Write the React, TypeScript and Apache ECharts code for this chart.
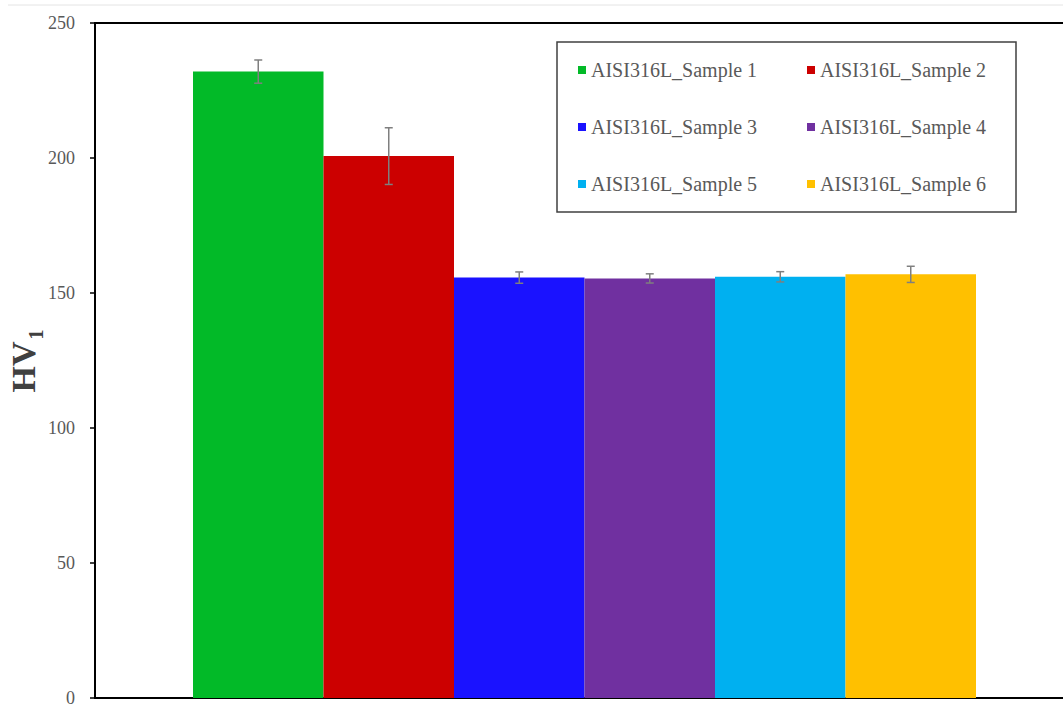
import React, { useEffect, useRef } from "react";
import * as echarts from "echarts";

const seriesNames = [
  "AISI316L_Sample 1",
  "AISI316L_Sample 2",
  "AISI316L_Sample 3",
  "AISI316L_Sample 4",
  "AISI316L_Sample 5",
  "AISI316L_Sample 6",
];
const means = [232, 200.7, 155.7, 155.4, 156.0, 156.9];
const errors = [4.3, 10.5, 2.1, 1.7, 1.9, 3.0];
const colors = ["#02BA28", "#CC0000", "#1A12FF", "#7030A0", "#00B0F0", "#FFC000"];
const yTicks = [0, 50, 100, 150, 200, 250];

const BAR_W = 130.5;
const SERIF = "Liberation Serif";

export default function App() {
  const ref = useRef<HTMLDivElement>(null);
  useEffect(() => {
    document.body.style.margin = "0";
    const chart = echarts.init(ref.current!, null, { renderer: "svg" });
    const barSeries = seriesNames.map((name, i) => ({
      name,
      type: "bar",
      data: [means[i]],
      barWidth: BAR_W,
      barGap: "0%",
      itemStyle: { color: colors[i] },
      z: 2,
    }));
    const errData = means.map((m, i) => [0, m, errors[i], i]);
    const legendText = { fontFamily: SERIF, fontSize: 20, color: "#595959" };
    chart.setOption({
      animation: false,
      textStyle: { fontFamily: SERIF },
      grid: {
        left: 95,
        top: 23,
        bottom: 6,
        right: -11,
        outerBoundsMode: "none",
        containLabel: false,
        show: true,
        borderColor: "#000",
        borderWidth: 2,
        backgroundColor: "transparent",
      },
      legend: [
        {
          data: [seriesNames[0], seriesNames[2], seriesNames[4]],
          orient: "vertical",
          left: 578,
          top: 60,
          padding: 0,
          itemGap: 37,
          itemWidth: 8,
          itemHeight: 8,
          icon: "rect",
          textStyle: legendText,
        },
        {
          data: [seriesNames[1], seriesNames[3], seriesNames[5]],
          orient: "vertical",
          left: 807,
          top: 60,
          padding: 0,
          itemGap: 37,
          itemWidth: 8,
          itemHeight: 8,
          icon: "rect",
          textStyle: legendText,
        },
      ],
      xAxis: {
        type: "category",
        data: [""],
        axisLine: { show: true, lineStyle: { color: "#000", width: 2 } },
        axisTick: { show: false },
        axisLabel: { show: false },
        splitLine: { show: false },
      },
      yAxis: {
        type: "value",
        min: yTicks[0],
        max: yTicks[yTicks.length - 1],
        interval: 50,
        axisLine: { show: true, lineStyle: { color: "#000", width: 2 } },
        axisTick: { show: true, inside: false, length: 5, lineStyle: { color: "#000", width: 1.5 } },
        axisLabel: {
          margin: 20,
          fontFamily: SERIF,
          fontSize: 18,
          color: "#595959",
        },
        splitLine: { show: false },
      },
      series: [
        ...barSeries,
        {
          type: "custom",
          name: "err",
          z: 5,
          data: errData,
          renderItem: (params: any, api: any) => {
            const idx = api.value(3);
            const m = api.value(1);
            const e = api.value(2);
            const top = api.coord([0, m + e]);
            const bot = api.coord([0, m - e]);
            const x = top[0] + (idx - 2.5) * BAR_W;
            const cap = 4;
            const style = { stroke: "#7f7f7f", lineWidth: 1.5 };
            return {
              type: "group",
              children: [
                { type: "line", shape: { x1: x, y1: top[1], x2: x, y2: bot[1] }, style },
                { type: "line", shape: { x1: x - cap, y1: top[1], x2: x + cap, y2: top[1] }, style },
                { type: "line", shape: { x1: x - cap, y1: bot[1], x2: x + cap, y2: bot[1] }, style },
              ],
            };
          },
        },
      ],
      graphic: [
        {
          type: "line",
          shape: { x1: 8, y1: 5, x2: 1063, y2: 5 },
          style: { stroke: "#e4e4e4", lineWidth: 1 },
          silent: true,
        },
        {
          type: "rect",
          shape: { x: 557, y: 42, width: 459, height: 170 },
          style: { fill: "none", stroke: "#404040", lineWidth: 1.5 },
          silent: true,
        },
        {
          type: "text",
          x: 23.5,
          y: 367,
          rotation: Math.PI / 2,
          style: {
            text: "HV",
            fontFamily: SERIF,
            fontSize: 34,
            fontWeight: "bold",
            fill: "#404040",
            align: "center",
            verticalAlign: "middle",
          },
        },
        {
          type: "text",
          x: 35.5,
          y: 334.5,
          rotation: Math.PI / 2,
          style: {
            text: "1",
            fontFamily: SERIF,
            fontSize: 20,
            fontWeight: "bold",
            fill: "#404040",
            align: "center",
            verticalAlign: "middle",
          },
        },
      ],
    });
    return () => chart.dispose();
  }, []);
  return <div ref={ref} style={{ width: 1063, height: 704 }} />;
}
